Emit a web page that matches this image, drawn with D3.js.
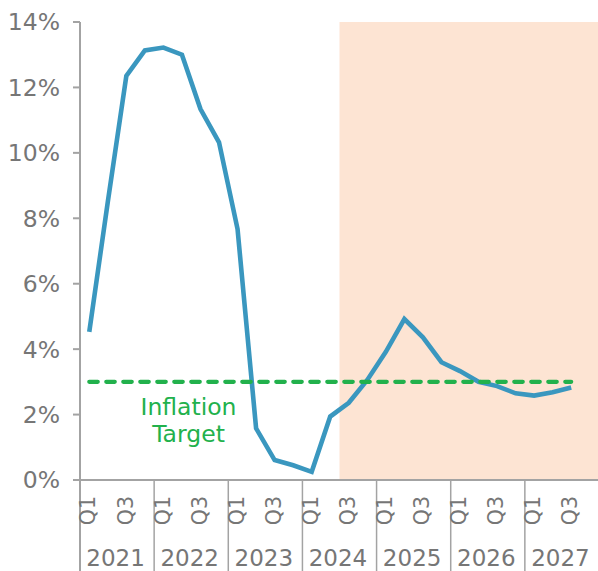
<!DOCTYPE html>
<html>
<head>
<meta charset="utf-8">
<script src="https://cdn.jsdelivr.net/npm/d3@7"></script>
<style>
  html, body { margin: 0; padding: 0; background: #fff; }
  svg { display: block; }
  text { font-family: "DejaVu Sans", sans-serif; }
</style>
</head>
<body>
<div id="chart"></div>
<script>
// ---- data ----
const years = [2021, 2022, 2023, 2024, 2025, 2026, 2027];
const quarters = ["Q1", "Q2", "Q3", "Q4"];
const quarterLabelsShown = ["Q1", "Q3"];
const inflation = [4.53, 8.5, 12.35, 13.13, 13.22, 13.0, 11.34, 10.32,
                   7.67, 1.58, 0.61, 0.45, 0.25, 1.94, 2.36, 3.06,
                   3.92, 4.92, 4.36, 3.6, 3.33, 3.0, 2.87, 2.65,
                   2.58, 2.68, 2.83];
const targetValue = 3;
const yTicks = [0, 2, 4, 6, 8, 10, 12, 14];
const forecastStart = "2024-Q3";
const targetLabel = ["Inflation", "Target"];

// ---- layout ----
const W = 598, H = 571;
const mLeft = 80, mRight = 599, mTop = 22, mBottom = 480;
const textColor = "#767676", axisColor = "#a3a3a3";

const keys = [];
years.forEach(yr => quarters.forEach(q => keys.push(yr + "-" + q)));
const dataKeys = keys.slice(0, inflation.length);

const x = d3.scaleBand().domain(keys).range([mLeft, mRight]).padding(0);
const y = d3.scaleLinear().domain([0, 14]).range([mBottom, mTop]);
const cx = k => x(k) + x.bandwidth() / 2;

const svg = d3.select("#chart").append("svg").attr("width", W).attr("height", H);

// forecast shading
svg.append("rect")
  .attr("x", x(forecastStart)).attr("y", y(14))
  .attr("width", W - x(forecastStart)).attr("height", y(0) - y(14))
  .attr("fill", "#fde4d3");

// y axis
const yAxis = svg.append("g");
yAxis.append("line").attr("x1", mLeft).attr("x2", mLeft).attr("y1", y(14)).attr("y2", H)
  .attr("stroke", axisColor).attr("stroke-width", 2);
yTicks.forEach(t => {
  yAxis.append("line").attr("x1", mLeft - 7).attr("x2", mLeft).attr("y1", y(t)).attr("y2", y(t))
    .attr("stroke", axisColor).attr("stroke-width", 2);
  yAxis.append("text")
    .attr("x", mLeft - 20).attr("y", y(t))
    .attr("text-anchor", "end").attr("dy", "0.36em")
    .attr("font-size", 23.5).attr("fill", textColor)
    .text(t + "%");
});

// x axis
const xAxis = svg.append("g");
xAxis.append("line").attr("x1", mLeft).attr("x2", W).attr("y1", y(0)).attr("y2", y(0))
  .attr("stroke", axisColor).attr("stroke-width", 2);
years.forEach((yr, i) => {
  const x0 = x(yr + "-Q1");
  if (i > 0) {
    xAxis.append("line").attr("x1", x0).attr("x2", x0).attr("y1", y(0)).attr("y2", H)
      .attr("stroke", axisColor).attr("stroke-width", 1.5);
  }
  quarterLabelsShown.forEach(q => {
    const k = yr + "-" + q;
    xAxis.append("text")
      .attr("transform", `translate(${cx(k) - 1},${496}) rotate(-90)`)
      .attr("text-anchor", "end").attr("dy", "0.35em")
      .attr("font-size", 20.5).attr("fill", textColor)
      .text(q);
  });
  xAxis.append("text")
    .attr("x", x0 + x.bandwidth() * 2 - 1.5).attr("y", 566)
    .attr("text-anchor", "middle")
    .attr("font-size", 23).attr("fill", textColor)
    .text(yr);
});

// inflation line
const line = d3.line().x((d, i) => cx(dataKeys[i])).y(d => y(d));
svg.append("path").datum(inflation)
  .attr("d", line).attr("fill", "none")
  .attr("stroke", "#3a97bf").attr("stroke-width", 4.6)
  .attr("stroke-linejoin", "miter");

// target line
svg.append("line")
  .attr("x1", cx(dataKeys[0])).attr("x2", cx(dataKeys[dataKeys.length - 1]))
  .attr("y1", y(targetValue)).attr("y2", y(targetValue))
  .attr("stroke", "#22b14c").attr("stroke-width", 4.2)
  .attr("stroke-dasharray", "8.5,8.5").attr("stroke-linecap", "round");

// target label (one text, two lines)
const lbl = svg.append("text")
  .attr("text-anchor", "middle")
  .attr("font-size", 23.5).attr("fill", "#22b14c");
targetLabel.forEach((t, i) => {
  lbl.append("tspan").attr("x", 188.5).attr("y", 415 + i * 26.5).text(t);
});
</script>
</body>
</html>
